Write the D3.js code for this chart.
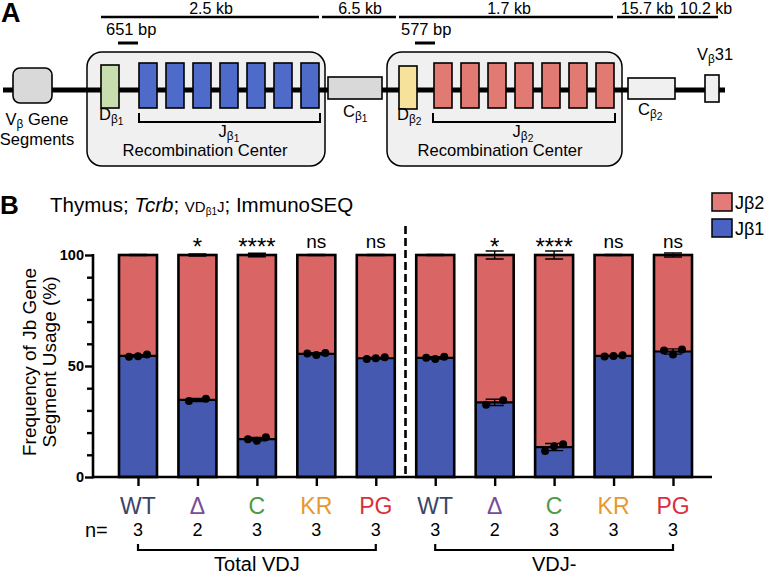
<!DOCTYPE html>
<html><head><meta charset="utf-8">
<script src="https://cdn.jsdelivr.net/npm/d3@7"></script>
<style>body{margin:0;background:#fff} svg{font-family:"Liberation Sans",Arial,Helvetica,sans-serif}</style>
</head><body><svg id="c" width="766" height="573"></svg>
<script>
// ---------- DATA ----------
const groups = ["Total VDJ", "VDJ-"];
const genotypes = ["WT", "Δ", "C", "KR", "PG"];
const nCounts = [3, 2, 3, 3, 3];
const significance = ["", "*", "****", "ns", "ns"];
// Jβ1 % per mouse (Jβ2 = 100 - Jβ1)
const jb1PointsTotal = [[54.2, 54.4, 55.2], [34.2, 35.2], [17.0, 16.3, 17.9], [55.6, 55.0, 55.9], [53.1, 53.5, 53.9]];
const jb1PointsVdjMinus = [[53.7, 53.1, 54.2], [32.6, 34.6], [11.7, 13.9, 14.8], [54.3, 54.5, 54.8], [57.0, 55.2, 57.4]];
// error on stacked total (top of bar)
const topErrTotal = [0.3, 0.5, 0.8, 0.3, 0.3];
const topErrVdjMinus = [0.3, 1.8, 1.8, 0.3, 0.9];
const seriesNames = ["Jβ2", "Jβ1"];
const yTicks = [0, 50, 100];
const yMinorTicks = [10, 20, 30, 40, 60, 70, 80, 90];

// ---------- STYLE ----------
const labelColors = {"WT": "#3b4466", "Δ": "#7a4c98", "C": "#4a9a48", "KR": "#e8982e", "PG": "#d92f3a"};
const redBar = "#d96565", blueBar = "#4559b0";
const redLegend = "#e37c78", blueLegend = "#4a63c2";

const svg = d3.select("#c");

// ---------- PANEL A (schematic) ----------
const A = svg.append("g");
A.append("text").attr("x", 1).attr("y", 22).attr("font-size", 27).attr("font-weight", "bold").text("A");

const scaleBars = [
  {label: "2.5 kb", x0: 101, x1: 319, lx: 211},
  {label: "6.5 kb", x0: 322, x1: 396, lx: 360},
  {label: "1.7 kb", x0: 399, x1: 613, lx: 509},
  {label: "15.7 kb", x0: 617, x1: 675, lx: 647},
  {label: "10.2 kb", x0: 678, x1: 718, lx: 706}
];
scaleBars.forEach(b => {
  A.append("line").attr("x1", b.x0).attr("x2", b.x1).attr("y1", 17).attr("y2", 17).attr("stroke", "#000").attr("stroke-width", 2.5);
  A.append("text").attr("x", b.lx).attr("y", 13.5).attr("text-anchor", "middle").attr("font-size", 16).text(b.label);
});
[{t: "651 bp", x: 106, b0: 118, b1: 138}, {t: "577 bp", x: 401, b0: 415, b1: 435}].forEach(s => {
  A.append("text").attr("x", s.x).attr("y", 35).attr("font-size", 16.5).text(s.t);
  A.append("line").attr("x1", s.b0).attr("x2", s.b1).attr("y1", 43).attr("y2", 43).attr("stroke", "#000").attr("stroke-width", 3);
});

// recombination centers
[{x0: 87, x1: 325}, {x0: 387, x1: 622}].forEach(r => {
  A.append("rect").attr("x", r.x0).attr("y", 52).attr("width", r.x1 - r.x0).attr("height", 114)
    .attr("rx", 15).attr("fill", "#f0f0f0").attr("stroke", "#000").attr("stroke-width", 1.5);
});
// main chromosome line
A.append("line").attr("x1", 3).attr("x2", 725).attr("y1", 90).attr("y2", 90).attr("stroke", "#000").attr("stroke-width", 5);

function box(x0, x1, y0, y1, fill, rx) {
  A.append("rect").attr("x", x0).attr("y", y0).attr("width", x1 - x0).attr("height", y1 - y0)
    .attr("rx", rx || 0).attr("fill", fill).attr("stroke", "#000").attr("stroke-width", 1.6);
}
box(13, 52, 68, 103, "#d9d9d9", 7);
box(101, 119, 65, 108, "#c9deaf");
[139, 166, 193, 220, 247, 274, 301].forEach(x => box(x, x + 18, 63, 108, "#4f6bc9"));
box(328, 382, 77, 99, "#d9d9d9");
box(399, 417, 66, 109, "#f6e29b");
[434, 461, 488, 515, 542, 569, 596].forEach(x => box(x, x + 18, 63, 108, "#e27a74"));
box(628, 675, 78, 99, "#f0f0f0");
box(705, 719, 75, 102, "#f0f0f0");

// brackets
[{x0: 139, x1: 320}, {x0: 433, x1: 615}].forEach(b => {
  A.append("path").attr("d", `M${b.x0},113V122H${b.x1}V113`).attr("fill", "none").attr("stroke", "#000").attr("stroke-width", 2);
});

function subText(x, y, main, sub1, sub2, size, anchor) {
  const t = A.append("text").attr("x", x).attr("y", y).attr("font-size", size).attr("text-anchor", anchor || "start");
  t.append("tspan").text(main);
  t.append("tspan").attr("font-size", size * 0.72).attr("dy", 3).text(sub1);
  if (sub2) t.append("tspan").attr("font-size", size * 0.62).attr("dy", 2).text(sub2);
  return t;
}
const vg = subText(37, 125, "V", "β", null, 16.5, "middle");
vg.append("tspan").attr("dy", -3).text(" Gene");
A.append("text").attr("x", 37).attr("y", 145).attr("font-size", 16.5).attr("text-anchor", "middle").text("Segments");
subText(99, 120, "D", "β", "1", 16.5);
subText(229, 137, "J", "β", "1", 16.5, "middle");
A.append("text").attr("x", 205).attr("y", 156).attr("font-size", 16.6).attr("text-anchor", "middle").text("Recombination Center");
subText(343, 117, "C", "β", "1", 16.5);
subText(397, 120, "D", "β", "2", 16.5);
subText(523, 137, "J", "β", "2", 16.5, "middle");
A.append("text").attr("x", 500).attr("y", 156).attr("font-size", 16.6).attr("text-anchor", "middle").text("Recombination Center");
subText(638, 115, "C", "β", "2", 16.5);
const v31 = subText(697, 60, "V", "β", null, 16.5);
v31.append("tspan").attr("dy", -3).text("31");

// ---------- PANEL B (chart) ----------
svg.append("text").attr("x", 0).attr("y", 214).attr("font-size", 26).attr("font-weight", "bold").text("B");
const title = svg.append("text").attr("x", 50).attr("y", 212).attr("font-size", 20.5);
title.append("tspan").text("Thymus; ");
title.append("tspan").attr("font-style", "italic").text("Tcrb");
title.append("tspan").text("; ");
title.append("tspan").attr("font-size", 15).text("VD");
title.append("tspan").attr("font-size", 10).attr("dy", 3).text("β1");
title.append("tspan").attr("font-size", 15).attr("dy", -3).text("J");
title.append("tspan").text("; ImmunoSEQ");

const rows = [];
groups.forEach((g, gi) => {
  const pts = gi === 0 ? jb1PointsTotal : jb1PointsVdjMinus;
  const errs = gi === 0 ? topErrTotal : topErrVdjMinus;
  genotypes.forEach((gt, i) => {
    const p = pts[i];
    const mean = d3.mean(p);
    const sd = p.length > 1 ? d3.deviation(p) : 0;
    rows.push({key: g + "|" + gt, group: g, genotype: gt, n: nCounts[i], sig: significance[i], pts: p, mean, sd, topErr: errs[i]});
  });
});

const axisX0 = 93, axisX1 = 712;
const x = d3.scalePoint().domain(rows.map(d => d.key)).range([138, 673]);
const y = d3.scaleLinear().domain([0, 100]).range([477, 255]);
const barW = 38;

const B = svg.append("g");

// bars
const bar = B.selectAll("g.bar").data(rows).join("g").attr("class", "bar");
bar.append("rect").attr("x", d => x(d.key) - barW / 2).attr("width", barW)
  .attr("y", d => y(d.mean)).attr("height", d => y(0) - y(d.mean)).attr("fill", blueBar);
bar.append("rect").attr("x", d => x(d.key) - barW / 2).attr("width", barW)
  .attr("y", y(100)).attr("height", d => y(d.mean) - y(100)).attr("fill", redBar);
// top error bars
bar.append("path").attr("d", d => {
  const cx = x(d.key), t = y(100 + d.topErr), b = y(100 - d.topErr);
  return `M${cx},${t}V${b}M${cx - 9},${t}H${cx + 9}M${cx - 9},${b}H${cx + 9}`;
}).attr("stroke", "#000").attr("stroke-width", 1.4).attr("fill", "none");
// outline
bar.append("rect").attr("x", d => x(d.key) - barW / 2).attr("width", barW)
  .attr("y", y(100)).attr("height", y(0) - y(100)).attr("fill", "none").attr("stroke", "#000").attr("stroke-width", 2.6);
// boundary
bar.append("line").attr("x1", d => x(d.key) - barW / 2).attr("x2", d => x(d.key) + barW / 2)
  .attr("y1", d => y(d.mean)).attr("y2", d => y(d.mean)).attr("stroke", "#000").attr("stroke-width", 2.2);
// boundary error bars
bar.append("path").attr("d", d => {
  const cx = x(d.key), t = y(d.mean + d.sd), b = y(d.mean - d.sd);
  return `M${cx},${t}V${b}M${cx - 9},${t}H${cx + 9}M${cx - 9},${b}H${cx + 9}`;
}).attr("stroke", "#000").attr("stroke-width", 1.4).attr("fill", "none");
// dots
bar.each(function (d) {
  const offs = d.pts.length === 3 ? [-9, 0, 9] : [-8.5, 8.5];
  d3.select(this).selectAll("circle").data(d.pts).join("circle")
    .attr("cx", (v, i) => x(d.key) + offs[i]).attr("cy", v => y(v)).attr("r", 4).attr("fill", "#000");
});
// significance
bar.append("text").attr("x", d => x(d.key))
  .attr("y", d => d.sig.startsWith("*") ? 255 : 248).attr("text-anchor", "middle")
  .attr("font-size", d => d.sig.startsWith("*") ? 24 : 19).text(d => d.sig);

// y axis
const yAxis = B.append("g").attr("transform", `translate(${axisX0},0)`);
yAxis.call(d3.axisLeft(y).tickValues(yTicks).tickSize(8).tickPadding(1).tickFormat(d3.format("d")));
yAxis.append("g").call(d3.axisLeft(y).tickValues(yMinorTicks).tickSize(6).tickFormat(""));
yAxis.selectAll(".domain").remove();
yAxis.append("line").attr("y1", y(100) - 1).attr("y2", y(0) + 1.3).attr("stroke", "#000").attr("stroke-width", 2.6);
yAxis.selectAll(".tick line").attr("stroke-width", 2.4);
yAxis.selectAll(".tick text").attr("font-size", 14.5).attr("font-weight", "bold").attr("font-family", "Liberation Sans, Arial, sans-serif").attr("fill", "#000");

// x axis
const xAxis = B.append("g").attr("transform", `translate(0,${y(0)})`);
xAxis.call(d3.axisBottom(x).tickSize(9).tickFormat(""));
xAxis.selectAll(".domain").remove();
xAxis.append("line").attr("x1", axisX0 - 1).attr("x2", axisX1).attr("stroke", "#000").attr("stroke-width", 2.6);
xAxis.selectAll(".tick line").attr("stroke-width", 2.4);

// dashed separator
const sepX = (x(rows[4].key) + x(rows[5].key)) / 2;
B.append("line").attr("x1", sepX).attr("x2", sepX).attr("y1", 226).attr("y2", y(0))
  .attr("stroke", "#000").attr("stroke-width", 2.6).attr("stroke-dasharray", "8,4");

// y title
const yt = B.append("text").attr("transform", `translate(35.5,362) rotate(-90)`).attr("text-anchor", "middle").attr("font-size", 19);
yt.append("tspan").attr("x", 0).attr("dy", 0).text("Frequency of Jb Gene");
yt.append("tspan").attr("x", 0).attr("dy", 20.5).text("Segment Usage (%)");

// category labels, n
B.selectAll("text.cat").data(rows).join("text").attr("class", "cat")
  .attr("x", d => x(d.key)).attr("y", 514).attr("text-anchor", "middle").attr("font-size", 23)
  .attr("fill", d => labelColors[d.genotype]).text(d => d.genotype);
B.selectAll("text.n").data(rows).join("text").attr("class", "n")
  .attr("x", d => x(d.key)).attr("y", 536).attr("text-anchor", "middle").attr("font-size", 18).text(d => d.n);
B.append("text").attr("x", 85).attr("y", 537).attr("font-size", 20).text("n=");

// group brackets
groups.forEach(g => {
  const gr = rows.filter(r => r.group === g);
  const x0 = x(gr[0].key), x1 = x(gr[gr.length - 1].key);
  B.append("path").attr("d", `M${x0},544V550H${x1}V544`).attr("fill", "none").attr("stroke", "#000").attr("stroke-width", 2.2);
  B.append("text").attr("x", (x0 + x1) / 2).attr("y", 571).attr("text-anchor", "middle").attr("font-size", 20).text(g);
});

// legend
const legendColors = [redLegend, blueLegend];
seriesNames.forEach((s, i) => {
  const ly = 193 + i * 26;
  B.append("rect").attr("x", 712).attr("y", ly).attr("width", 20).attr("height", 18)
    .attr("fill", legendColors[i]).attr("stroke", "#000").attr("stroke-width", 1.5);
  B.append("text").attr("x", 735).attr("y", ly + 16).attr("font-size", 18).text(s);
});
</script></body></html>
